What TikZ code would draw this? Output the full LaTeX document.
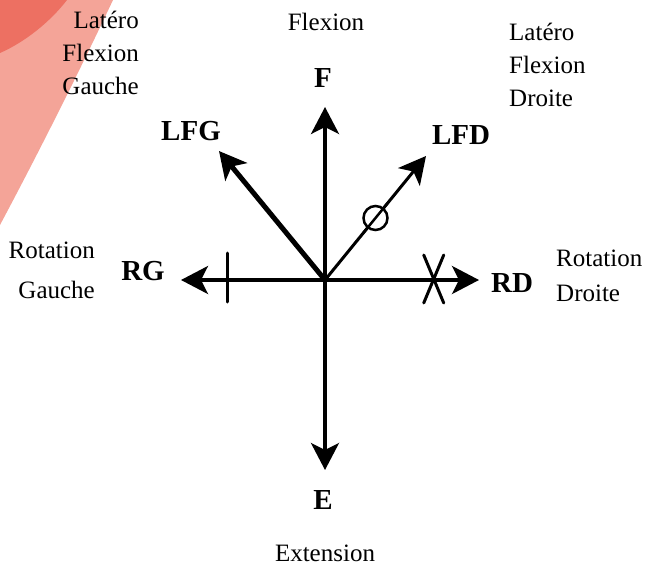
\documentclass[tikz,border=0pt]{standalone}
\usepackage{fontspec}
\setmainfont{Liberation Serif}
\usetikzlibrary{arrows.meta, positioning, calc}
\definecolor{rougefonce}{RGB}{237,112,98}
\definecolor{rougeclair}{RGB}{244,164,152}

\begin{document}
\begin{tikzpicture}[x=1pt, y=-1pt,
      lab/.style={font=\fontsize{29}{34}\selectfont\bfseries, inner sep=0pt},
      txt/.style={font=\fontsize{25}{33}\selectfont, inner sep=0pt},
      axe/.style={-{Stealth[length=27pt, width=28pt, inset=7pt]}, line width=3.5pt, line cap=round},
      marque/.style={line width=3pt, line cap=round}]
    \useasboundingbox (0,0) rectangle (655,567);
    % coin rouge
    \fill[rougeclair] (0,0) -- (113,0) .. controls (80,70) and (40,150) .. (0,225) -- cycle;
    \fill[rougefonce] (0,0) -- (67,0) .. controls (50,22) and (25,42) .. (0,53) -- cycle;
    % axes
    \coordinate (o) at (325,280);
    \coordinate (f) at (325,107); \coordinate (e) at (325,470);
    \coordinate (rg) at (181,280); \coordinate (rd) at (479,280);
    \coordinate (lfg) at (219,151); \coordinate (lfd) at (426,156);
    \draw[axe] (o) -- (f); \draw[axe] (o) -- (e);
    \draw[axe] (o) -- (rg); \draw[axe] (o) -- (rd);
    \draw[axe, line width=5pt] (o) -- (lfg);
    \draw[axe, line width=3pt] (o) -- (lfd);
    % marques
    \draw[marque] ($(o)!0.68!(rg)$) ++(0,-27) -- ++(0,49);
    \draw[marque] ($(o)!0.706!(rd)$) ++(-10,-25) -- ++(20,48);
    \draw[marque] ($(o)!0.706!(rd)$) ++(10,-25) -- ++(-20,48);
    \draw[line width=2.5pt, fill=white] ($(o)!0.5!(lfd)$) circle (12pt);
    \draw[line width=2.5pt] ($(o)!0.38!(lfd)$) -- ($(o)!0.62!(lfd)$);
    % lettres
    \node[lab] (F) at (323,78) {F};
    \node[lab] (E) at (323,500) {E};
    \node[lab] (LFG) at (191,131) {LFG};
    \node[lab] (LFD) at (461,135) {LFD};
    \node[lab] (RG) at (143,271) {RG};
    \node[lab] (RD) at (512,283) {RD};
    % textes
    \node[txt] (flex) at (326,22) {Flexion};
    \node[txt] (ext) at (325,553) {Extension};
    \node[txt, align=right, anchor=east] (lfgt) at (139,53) {Latéro\\Flexion\\Gauche};
    \node[txt, align=left, anchor=west] (lfdt) at (509,65) {Latéro\\Flexion\\Droite};
    \node[txt, align=right, anchor=east, font=\fontsize{25}{40}\selectfont] (rgt) at (95,270) {Rotation\\Gauche};
    \node[txt, align=left, anchor=west, font=\fontsize{25}{35}\selectfont] (rdt) at (556,276) {Rotation\\Droite};
\end{tikzpicture}
\end{document}
